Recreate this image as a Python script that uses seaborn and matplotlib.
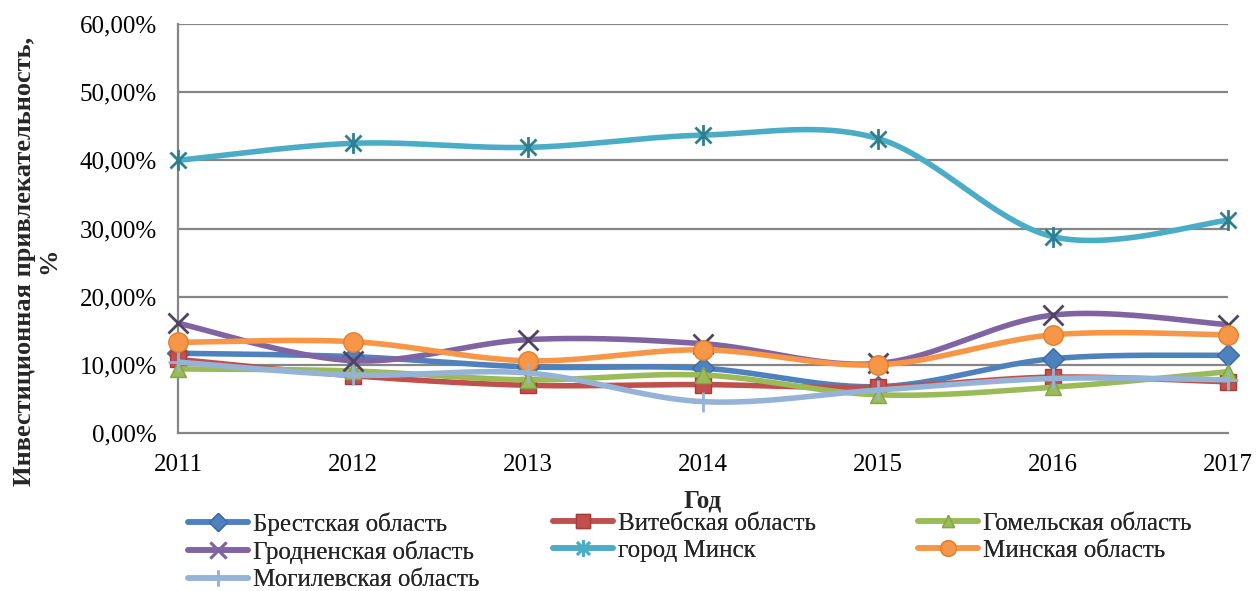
import numpy as np
import pandas as pd
import matplotlib
matplotlib.use("Agg")
import matplotlib.pyplot as plt
from matplotlib.lines import Line2D
from matplotlib.path import Path
from matplotlib.ticker import FuncFormatter
import seaborn as sns

years = [2011, 2012, 2013, 2014, 2015, 2016, 2017]
regions = ["Брестская область", "Витебская область", "Гомельская область",
           "Гродненская область", "город Минск", "Минская область",
           "Могилевская область"]

brest = [11.7, 11.2, 9.7, 9.5, 6.8, 10.9, 11.4]
vitebsk = [10.8, 8.4, 7.0, 7.1, 6.7, 8.2, 7.5]
gomel = [9.4, 9.1, 7.8, 8.5, 5.6, 6.7, 9.0]
grodno = [16.1, 10.6, 13.7, 13.1, 10.2, 17.3, 15.9]
minsk_city = [40.0, 42.5, 41.9, 43.7, 43.2, 28.8, 31.2]
minsk_obl = [13.3, 13.4, 10.6, 12.2, 10.0, 14.4, 14.4]
mogilev = [10.4, 8.5, 8.8, 4.6, 6.3, 8.0, 7.8]

values = [brest, vitebsk, gomel, grodno, minsk_city, minsk_obl, mogilev]

colors = ["#4F81BD", "#C0504D", "#9BBB59", "#8064A2", "#4BACC6", "#F79646", "#95B3D7"]
edge_colors = ["#3A6AA5", "#A83C39", "#86A44A", "#4F4463", "#2E7F8F", "#E0802F", "#95B3D7"]

star = Path([(-1, -1), (1, 1), (-1, 1), (1, -1), (0, -1.3), (0, 1.3)],
            [Path.MOVETO, Path.LINETO, Path.MOVETO, Path.LINETO, Path.MOVETO, Path.LINETO])
markers = ["D", "s", "^", "x", star, "o", "+"]
msizes = [11, 12, 11, 14, 15, 14, 14]
line_markers = [False, False, False, True, True, False, True]


def smooth(xs, ys, n=40):
    # Excel-style smoothed line (cubic Bezier through points)
    p = np.column_stack([xs, ys]).astype(float)
    pad = np.vstack([p[0], p, p[-1]])
    out = []
    t = np.linspace(0, 1, n)[:, None]
    for i in range(len(p) - 1):
        p0, p1, p2, p3 = pad[i], pad[i + 1], pad[i + 2], pad[i + 3]
        c1 = p1 + (p2 - p0) / 6
        c2 = p2 - (p3 - p1) / 6
        seg = ((1 - t) ** 3) * p1 + 3 * ((1 - t) ** 2) * t * c1 + 3 * (1 - t) * t ** 2 * c2 + t ** 3 * p2
        out.append(seg if i == 0 else seg[1:])
    return np.vstack(out)


sns.set_style("white")
plt.rcParams["font.family"] = ["Liberation Serif", "DejaVu Serif"]

fig = plt.figure(figsize=(12.58, 5.91), dpi=100)
ax = fig.add_axes([178 / 1258, 1 - 433 / 591, 1050 / 1258, 409 / 591])

for y in range(10, 61, 10):
    ax.axhline(y, color="#868686", lw=1.6, zorder=0)

for i, (name, vals) in enumerate(zip(regions, values)):
    curve = smooth(years, vals)
    df = pd.DataFrame({"x": curve[:, 0], "y": curve[:, 1]})
    sns.lineplot(data=df, x="x", y="y", color=colors[i], lw=4.0, sort=False,
                 estimator=None, ax=ax, zorder=2 + i * 2)
    ax.plot(years, vals, linestyle="none", marker=markers[i], markersize=msizes[i],
            markerfacecolor=colors[i], markeredgecolor=edge_colors[i],
            markeredgewidth=2 if line_markers[i] else 1, zorder=3 + i * 2, clip_on=False)

ax.set_xlim(2011, 2017)
ax.set_ylim(0, 60)
ax.set_xticks(years)
ax.set_xticklabels([str(y) for y in years])
ax.set_yticks(range(0, 61, 10))
ax.yaxis.set_major_formatter(FuncFormatter(lambda v, _: f"{v:.2f}%".replace(".", ",")))

for s in ["top", "right"]:
    ax.spines[s].set_visible(False)
for s in ["left", "bottom"]:
    ax.spines[s].set_color("#868686")
    ax.spines[s].set_linewidth(1.6)

ax.tick_params(axis="both", which="major", direction="out", length=5, width=1.6,
               color="#868686", labelsize=18, labelcolor="black")
ax.tick_params(axis="y", pad=10)
ax.tick_params(axis="x", pad=10)

ax.set_xlabel("Год", fontsize=18, fontweight="bold", labelpad=10)
ax.set_ylabel("Инвестиционная привлекательность,\n%", fontsize=19, fontweight="bold",
              multialignment="center", linespacing=1.1)
ax.yaxis.set_label_coords(-0.112, 0.42)

handles = []
for i, name in enumerate(regions):
    handles.append(Line2D([], [], color=colors[i], lw=4.0, marker=markers[i],
                          markersize=msizes[i] * 0.8, markerfacecolor=colors[i],
                          markeredgecolor=colors[i] if line_markers[i] else edge_colors[i],
                          markeredgewidth=2 if line_markers[i] else 1))

cols = [[0, 3, 6], [1, 4], [2, 5]]
col_x = [188, 553, 918]
for cx, idx in zip(col_x, cols):
    leg = fig.legend([handles[k] for k in idx], [regions[k] for k in idx],
                     loc="upper left", bbox_to_anchor=(cx / 1258, 1 - 512 / 591),
                     frameon=False, fontsize=18, handlelength=2.4, handletextpad=0.2,
                     labelspacing=0.2, borderpad=0, borderaxespad=0)
    fig.add_artist(leg)

fig.savefig("out.png", dpi=100)
